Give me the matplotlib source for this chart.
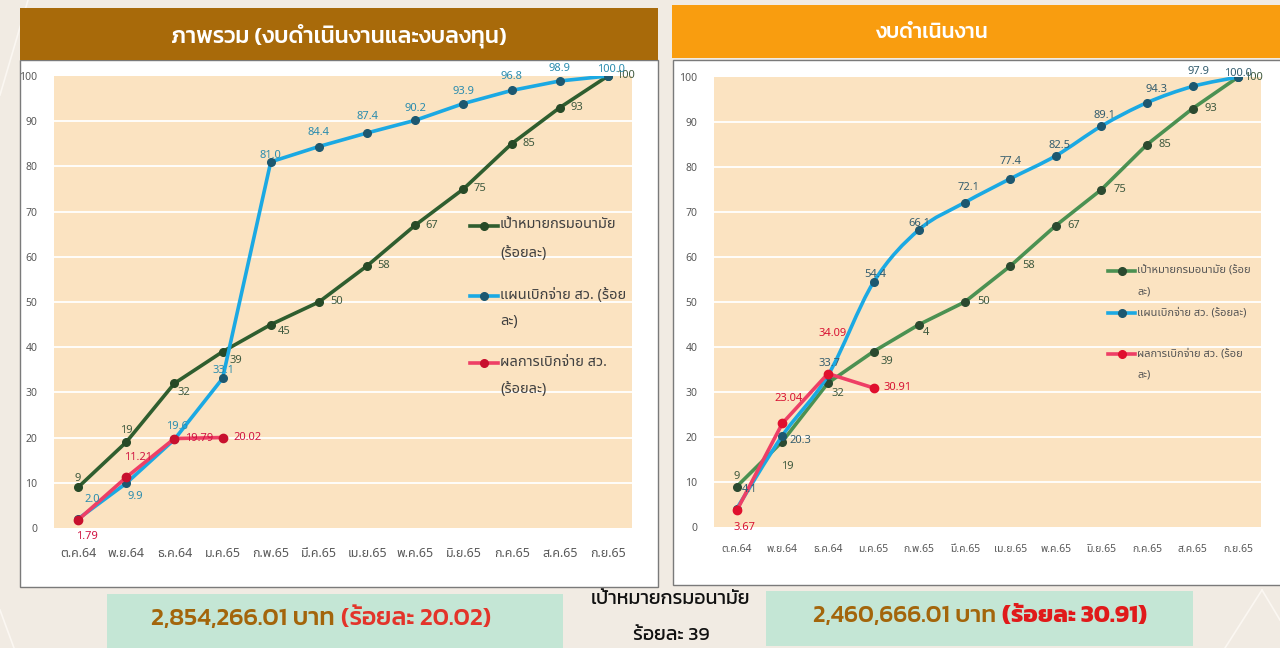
import matplotlib
matplotlib.use("Agg")
import matplotlib.pyplot as plt
from matplotlib.patches import Rectangle, PathPatch
from matplotlib.lines import Line2D
from matplotlib.path import Path

# ---------------- data ----------------
months = ['ต.ค.64', 'พ.ย.64', 'ธ.ค.64', 'ม.ค.65', 'ก.พ.65', 'มี.ค.65',
          'เม.ย.65', 'พ.ค.65', 'มิ.ย.65', 'ก.ค.65', 'ส.ค.65', 'ก.ย.65']

# left chart: overall (operating + investment)
target_all = [9, 19, 32, 39, 45, 50, 58, 67, 75, 85, 93, 100]
plan_all = [2.0, 9.9, 19.6, 33.1, 81.0, 84.4, 87.4, 90.2, 93.9, 96.8, 98.9, 100.0]
actual_all = [1.79, 11.21, 19.79, 20.02]

# right chart: operating budget
target_op = [9, 19, 32, 39, 45, 50, 58, 67, 75, 85, 93, 100]
target_op_text = ['9', '19', '32', '39', '4', '50', '58', '67', '75', '85', '93', '100']
plan_op = [4.1, 20.3, 33.7, 54.4, 66.1, 72.1, 77.4, 82.5, 89.1, 94.3, 97.9, 100.0]
actual_op = [3.67, 23.04, 34.09, 30.91]

title_all = 'ภาพรวม (งบดำเนินงานและงบลงทุน)'
title_op = 'งบดำเนินงาน'
legend_all = ['เป้าหมายกรมอนามัย\n(ร้อยละ)', 'แผนเบิกจ่าย สว. (ร้อย\nละ)', 'ผลการเบิกจ่าย สว.\n(ร้อยละ)']
legend_op = ['เป้าหมายกรมอนามัย (ร้อย\nละ)', 'แผนเบิกจ่าย สว. (ร้อยละ)', 'ผลการเบิกจ่าย สว. (ร้อย\nละ)']
amount_all = '2,854,266.01 บาท '
pct_all = '(ร้อยละ 20.02)'
amount_op = '2,460,666.01 บาท '
pct_op = '(ร้อยละ 30.91)'
center_line1 = 'เป้าหมายกรมอนามัย'
center_line2 = 'ร้อยละ 39'

# ---------------- styles ----------------
THAI = ['Noto Sans Thai', 'Noto Sans', 'DejaVu Sans']
NUM = ['Noto Sans', 'Noto Sans Thai', 'DejaVu Sans']
HEAD = ['Kanit', 'Noto Sans Thai', 'DejaVu Sans']
plt.rcParams['font.family'] = THAI

W, H = 1280, 648
fig = plt.figure(figsize=(W / 100, H / 100), dpi=100)
fig.patch.set_facecolor('#f1ebe3')


def fx(px):
    return px / W


def fy(py):
    return 1 - py / H


def frect(x0, y0, x1, y1, **kw):
    fig.patches.append(Rectangle((fx(x0), fy(y1)), fx(x1) - fx(x0), fy(y0) - fy(y1),
                                 transform=fig.transFigure, **kw))


# decorative faint lines on background
for (xa, ya, xb, yb) in [(0, 95, 28, 0), (14, 648, 0, 610), (1225, 648, 1262, 590), (1262, 590, 1280, 620)]:
    fig.lines.append(Line2D([fx(xa), fx(xb)], [fy(ya), fy(yb)], transform=fig.transFigure,
                            color='#fbf7f2', lw=1.2, zorder=0))

# panels
frect(20, 60, 658, 587, facecolor='white', edgecolor='#7a7a7a', lw=1.0, zorder=1)
frect(673, 60, 1290, 585, facecolor='white', edgecolor='#7a7a7a', lw=1.0, zorder=1)
frect(20, 8, 658, 60, facecolor='#a86a0a', edgecolor='none', zorder=2)
frect(672, 5, 1290, 58, facecolor='#f99d0f', edgecolor='none', zorder=2)
fig.text(fx(339), fy(36), title_all, color='white', fontsize=16.5, family=HEAD, weight='medium',
         ha='center', va='center', zorder=3)
fig.text(fx(931), fy(33), title_op, color='white', fontsize=15, family=HEAD, weight='medium',
         ha='center', va='center', zorder=3)

PEACH = '#fbe3c1'


def setup_axes(rect, tick_fs, xtick_fs, ypad, xpad):
    ax = fig.add_axes(rect)
    ax.set_facecolor(PEACH)
    for s in ax.spines.values():
        s.set_visible(False)
    ax.set_xlim(-0.5, 11.5)
    ax.set_ylim(0, 100)
    ax.set_yticks(range(0, 101, 10))
    ax.set_xticks(range(12))
    ax.set_xticklabels(months, fontsize=xtick_fs, color='#595959', family=THAI)
    ax.tick_params(axis='y', length=0, pad=ypad, labelsize=tick_fs, labelcolor='#595959')
    ax.tick_params(axis='x', length=0, pad=xpad)
    for lab in ax.get_yticklabels():
        lab.set_family(NUM)
    for yv in range(10, 100, 10):
        ax.axhline(yv, color='white', lw=1.3, zorder=1)
    ax.set_zorder(5)
    return ax


def smooth_line(ax, xs, ys, color, lw, z):
    # Excel-style smoothed line: cubic Bezier segments through the data points
    pts = list(zip(xs, ys))
    n = len(pts)
    verts = [pts[0]]
    codes = [Path.MOVETO]
    for i in range(n - 1):
        p0 = pts[i - 1] if i > 0 else pts[i]
        p1 = pts[i]
        p2 = pts[i + 1]
        p3 = pts[i + 2] if i + 2 < n else pts[i + 1]
        c1 = (p1[0] + (p2[0] - p0[0]) / 6, p1[1] + (p2[1] - p0[1]) / 6)
        c2 = (p2[0] - (p3[0] - p1[0]) / 6, p2[1] - (p3[1] - p1[1]) / 6)
        verts += [c1, c2, p2]
        codes += [Path.CURVE4] * 3
    ax.add_patch(PathPatch(Path(verts, codes), facecolor='none', edgecolor=color, lw=lw,
                           zorder=z, capstyle='round', joinstyle='round'))


def labels(ax, xs, ys, texts, offsets, color, fs=8):
    for x, y, t, (dx, dy) in zip(xs, ys, texts, offsets):
        ax.annotate(t, (x, y), xytext=(dx, dy), textcoords='offset pixels',
                    ha='center', va='center', color=color, fontsize=fs, family=NUM, zorder=10)


def manual_legend(ax, axpx, entries, fs, color):
    for (line_c, mark_c, hx0, hx1, hy, lines) in entries:
        x0, y0 = axpx(hx0, hy)
        x1, _ = axpx(hx1, hy)
        ax.add_line(Line2D([x0, x1], [y0, y0], transform=ax.transAxes, color=line_c, lw=2.6,
                           clip_on=False, zorder=8))
        ax.add_line(Line2D([(x0 + x1) / 2], [y0], transform=ax.transAxes, color=mark_c,
                           marker='o', ms=5.5, clip_on=False, zorder=9, lw=0))
        for (tx, ty, txt) in lines:
            a, b = axpx(tx, ty)
            ax.text(a, b, txt, transform=ax.transAxes, fontsize=fs, color=color,
                    ha='left', va='center', family=THAI, zorder=9)


x = list(range(12))

# ---------------- left chart ----------------
L_x0, L_x1, L_y0, L_y1 = 54, 632, 76, 528
axL = setup_axes([fx(L_x0), fy(L_y1), fx(L_x1) - fx(L_x0), fy(L_y0) - fy(L_y1)], 7.5, 9, 12, 14)
axL.plot(x, target_all, color='#2f5e2f', lw=2.6, marker='o', ms=5.5,
         mfc='#274a27', mec='#274a27', zorder=4)
axL.plot(x, plan_all, color='#1ba9e3', lw=2.6, marker='o', ms=5.5,
         mfc='#1d5870', mec='#1d5870', zorder=5)
axL.plot(x[:len(actual_all)], actual_all, color='#ee3f66', lw=2.6, marker='o', ms=6,
         mfc='#c8102e', mec='#c8102e', zorder=6)

off_t_all = [(0, 9), (0, 12), (9, -9), (13, -9), (13, -7), (18, 0), (17, 0), (17, 0),
             (17, 0), (17, 0), (17, 0), (17, 0)]
off_p_all = [(14, 19), (9, -13), (3, 13), (1, 8), (0, 6), (0, 14), (0, 16), (0, 12),
             (0, 12), (0, 14), (0, 12), (3, 6)]
off_a_all = [(9, -17), (12, 20), (25, 0), (25, 0)]
labels(axL, x, target_all, [str(v) for v in target_all], off_t_all, '#3f5a3f')
labels(axL, x, plan_all, ['%.1f' % v for v in plan_all], off_p_all, '#2b8cae')
labels(axL, x, actual_all, ['%.2f' % v for v in actual_all], off_a_all, '#d01442')


def axpx_L(px, py):
    return (px - L_x0) / (L_x1 - L_x0), (L_y1 - py) / (L_y1 - L_y0)


manual_legend(axL, axpx_L, [
    ('#2f5e2f', '#274a27', 470, 498, 226, [(500, 225, legend_all[0].split('\n')[0]),
                                           (500, 253, legend_all[0].split('\n')[1])]),
    ('#1ba9e3', '#1d5870', 470, 498, 296, [(500, 295, legend_all[1].split('\n')[0]),
                                           (500, 322, legend_all[1].split('\n')[1])]),
    ('#ee3f66', '#c8102e', 470, 498, 363, [(500, 362, legend_all[2].split('\n')[0]),
                                           (500, 390, legend_all[2].split('\n')[1])]),
], 10.5, '#404040')

# ---------------- right chart ----------------
R_x0, R_x1, R_y0, R_y1 = 714, 1261, 77, 527
axR = setup_axes([fx(R_x0), fy(R_y1), fx(R_x1) - fx(R_x0), fy(R_y0) - fy(R_y1)], 7.5, 7.5, 12, 12)
axR.plot(x, target_op, color='#4b9152', lw=2.6, marker='o', ms=5.5,
         mfc='#2b4a30', mec='#2b4a30', zorder=4)
smooth_line(axR, x, plan_op, '#1ba9e3', 2.6, 5)
axR.plot(x, plan_op, ls='none', marker='o', ms=5.5, mfc='#1d5870', mec='#1d5870', zorder=5.5)
axR.plot(x[:len(actual_op)], actual_op, color='#ee3f66', lw=2.6, marker='o', ms=6,
         mfc='#e0102e', mec='#e0102e', zorder=6)

off_t_op = [(0, 10), (5, -25), (10, -10), (13, -10), (7, -8), (19, 0), (18, 0), (18, 0),
            (18, 0), (18, 0), (18, 0), (15, 0)]
off_p_op = [(13, 19), (18, -5), (2, 12), (2, 8), (0, 6), (4, 15), (0, 17), (4, 10),
            (3, 11), (9, 13), (6, 15), (0, 3)]
off_a_op = [(8, -17), (6, 25), (5, 40), (24, 0)]
labels(axR, x, target_op, target_op_text, off_t_op, '#3f5a3f')
labels(axR, x, plan_op, ['%.1f' % v for v in plan_op], off_p_op, '#345d6e')
labels(axR, x, actual_op, ['%.2f' % v for v in actual_op], off_a_op, '#d81434')


def axpx_R(px, py):
    return (px - R_x0) / (R_x1 - R_x0), (R_y1 - py) / (R_y1 - R_y0)


manual_legend(axR, axpx_R, [
    ('#4b9152', '#2b4a30', 1108, 1135, 271, [(1137, 271, legend_op[0].split('\n')[0]),
                                             (1137, 292, legend_op[0].split('\n')[1])]),
    ('#1ba9e3', '#1d5870', 1108, 1135, 313, [(1137, 313, legend_op[1])]),
    ('#ee3f66', '#e0102e', 1108, 1135, 354, [(1137, 354, legend_op[2].split('\n')[0]),
                                             (1137, 375, legend_op[2].split('\n')[1])]),
], 8, '#555555')

# ---------------- bottom summary ----------------
frect(107, 594, 563, 652, facecolor='#c4e6d5', edgecolor='none', zorder=1)
frect(766, 591, 1193, 646, facecolor='#c4e6d5', edgecolor='none', zorder=1)

renderer = fig.canvas.get_renderer()


def two_tone(cx, cy, t1, t2, c1, c2, fs, w1='medium', w2='medium'):
    a = fig.text(0, fy(cy), t1, color=c1, fontsize=fs, family=HEAD, weight=w1, ha='left',
                 va='center', zorder=3)
    b = fig.text(0, fy(cy), t2, color=c2, fontsize=fs, family=HEAD, weight=w2, ha='left',
                 va='center', zorder=3)
    wa = a.get_window_extent(renderer).width
    wb = b.get_window_extent(renderer).width
    start = cx - (wa + wb) / 2
    a.set_x(fx(start))
    b.set_x(fx(start + wa))


two_tone(321, 619, amount_all, pct_all, '#a3650b', '#e3342a', 18)
two_tone(980, 616, amount_op, pct_op, '#a3650b', '#e01a1a', 17.5, 'medium', 'bold')
fig.text(fx(671), fy(600), center_line1, fontsize=14, family=HEAD, ha='center', va='center',
         color='#111111', zorder=3)
fig.text(fx(671), fy(635), center_line2, fontsize=14, family=HEAD, ha='center', va='center',
         color='#111111', zorder=3)

fig.savefig('out.png', dpi=100, facecolor=fig.get_facecolor())
